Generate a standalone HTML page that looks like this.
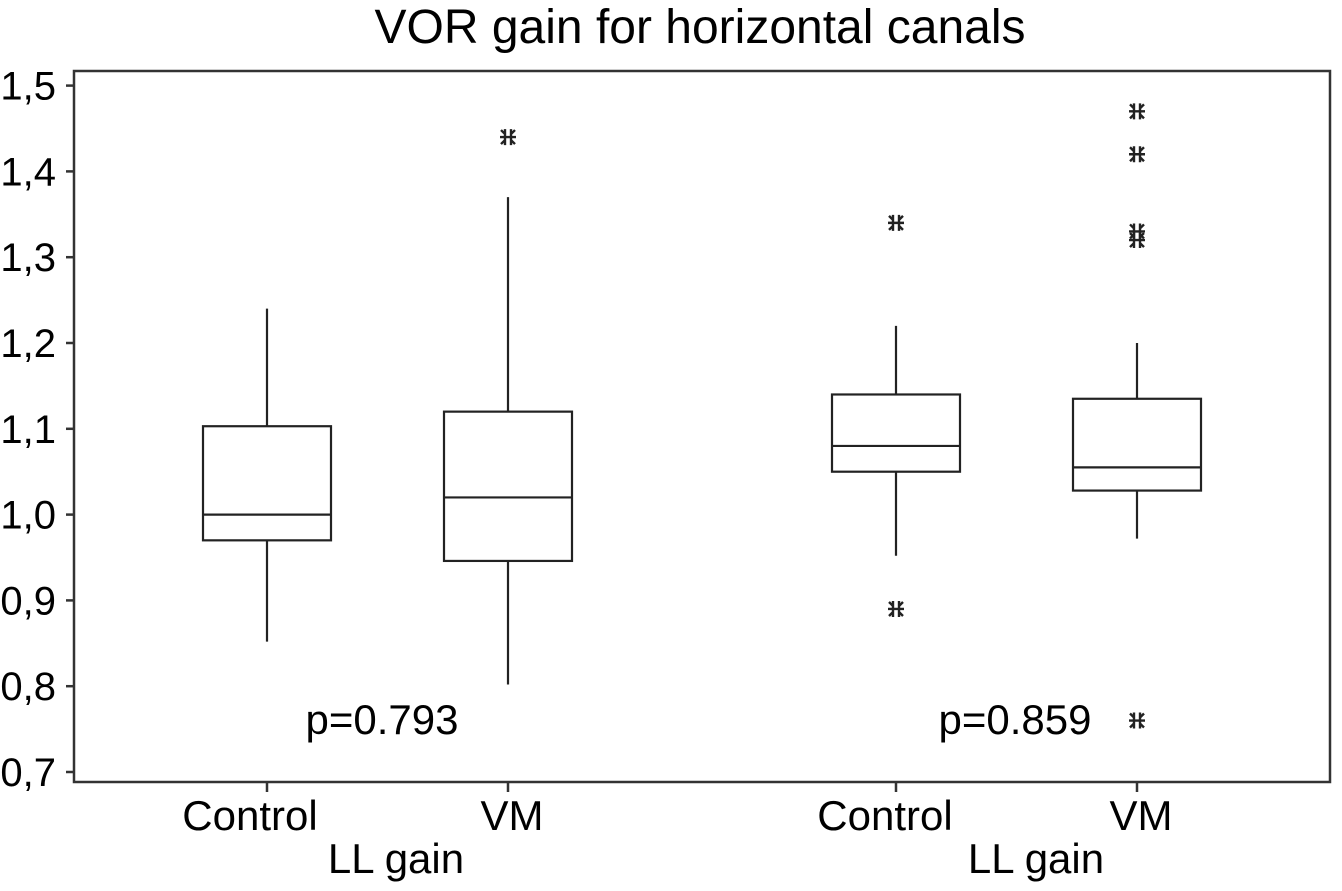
<!DOCTYPE html>
<html><head><meta charset="utf-8"><style>
body{margin:0;background:#fff}
svg{display:block;font-family:"Liberation Sans",Arial,sans-serif}
</style></head><body>
<svg id="chart" width="1342" height="891" viewBox="0 0 1342 891">
<text x="700" y="43" font-size="48" text-anchor="middle">VOR gain for horizontal canals</text>
<rect x="74" y="71" width="1256" height="711" fill="none" stroke="#333" stroke-width="2.5"/>
<g id="yaxis"></g>
<g id="xaxis"></g>
<g id="boxes"></g>
<text x="382" y="734" font-size="42" text-anchor="middle">p=0.793</text>
<text x="1015" y="734" font-size="42" text-anchor="middle">p=0.859</text>
<text x="396" y="873" font-size="42" text-anchor="middle">LL gain</text>
<text x="1036" y="873" font-size="42" text-anchor="middle">LL gain</text>
</svg>
<script>
const categories=["Control","VM","Control","VM"];
const whiskerHigh=[1.24,1.37,1.22,1.20];
const q3=[1.103,1.12,1.14,1.135];
const medians=[1.0,1.02,1.08,1.055];
const q1=[0.97,0.946,1.05,1.028];
const whiskerLow=[0.852,0.802,0.952,0.972];
const outliers=[[],[1.44],[1.34,0.89],[1.47,1.42,1.33,1.32,0.76]];
const yTicks=[0.7,0.8,0.9,1.0,1.1,1.2,1.3,1.4,1.5];
const xCenters=[267,508,896,1137];
const labelShift=[-17,4,-11,4];
const NS="http://www.w3.org/2000/svg";
function y(v){return 772-(v-0.7)*858;}
function mk(t,a,p){const e=document.createElementNS(NS,t);for(const k in a)e.setAttribute(k,a[k]);p.appendChild(e);return e;}
const ya=document.getElementById('yaxis');
yTicks.forEach(t=>{
 const l=mk('line',{x1:66,x2:74,y1:y(t),y2:y(t),stroke:'#333','stroke-width':2.5},ya);
 
 
 const tx=mk('text',{x:56,y:y(t)+14,'font-size':40,'text-anchor':'end'},ya);
 tx.textContent=t.toFixed(1).replace('.',',');
 
 
});
const xa=document.getElementById('xaxis');
const bx=document.getElementById('boxes');
const hw=64;
categories.forEach((c,i)=>{
 const cx=xCenters[i];
 const t=mk('line',{x1:cx,x2:cx,y1:782,y2:792,stroke:'#333','stroke-width':2.5},xa);
 
 
 const lb=mk('text',{x:cx+labelShift[i],y:830,'font-size':42,'text-anchor':'middle'},xa);
 lb.textContent=c;
 
 
 const g=mk('g',{stroke:'#222','stroke-width':2.2,fill:'none'},bx);
 
 
 mk('line',{x1:cx,x2:cx,y1:y(whiskerHigh[i]),y2:y(q3[i])},g);
 mk('line',{x1:cx,x2:cx,y1:y(q1[i]),y2:y(whiskerLow[i])},g);
 mk('rect',{x:cx-hw,y:y(q3[i]),width:hw*2,height:y(q1[i])-y(q3[i])},g);
 mk('line',{x1:cx-hw,x2:cx+hw,y1:y(medians[i]),y2:y(medians[i])},g);
 outliers[i].forEach(o=>{
  const oy=y(o);
  const s=mk('path',{d:`M${cx-8} ${oy}H${cx+8}M${cx-3} ${oy-8}V${oy+8}M${cx+3} ${oy-8}V${oy+8}M${cx-7} ${oy-7}L${cx-3} ${oy-3}M${cx+7} ${oy-7}L${cx+3} ${oy-3}M${cx-7} ${oy+7}L${cx-3} ${oy+3}M${cx+7} ${oy+7}L${cx+3} ${oy+3}`,'stroke-width':2.4},g);
  
  
 });
});
</script>
</body></html>
